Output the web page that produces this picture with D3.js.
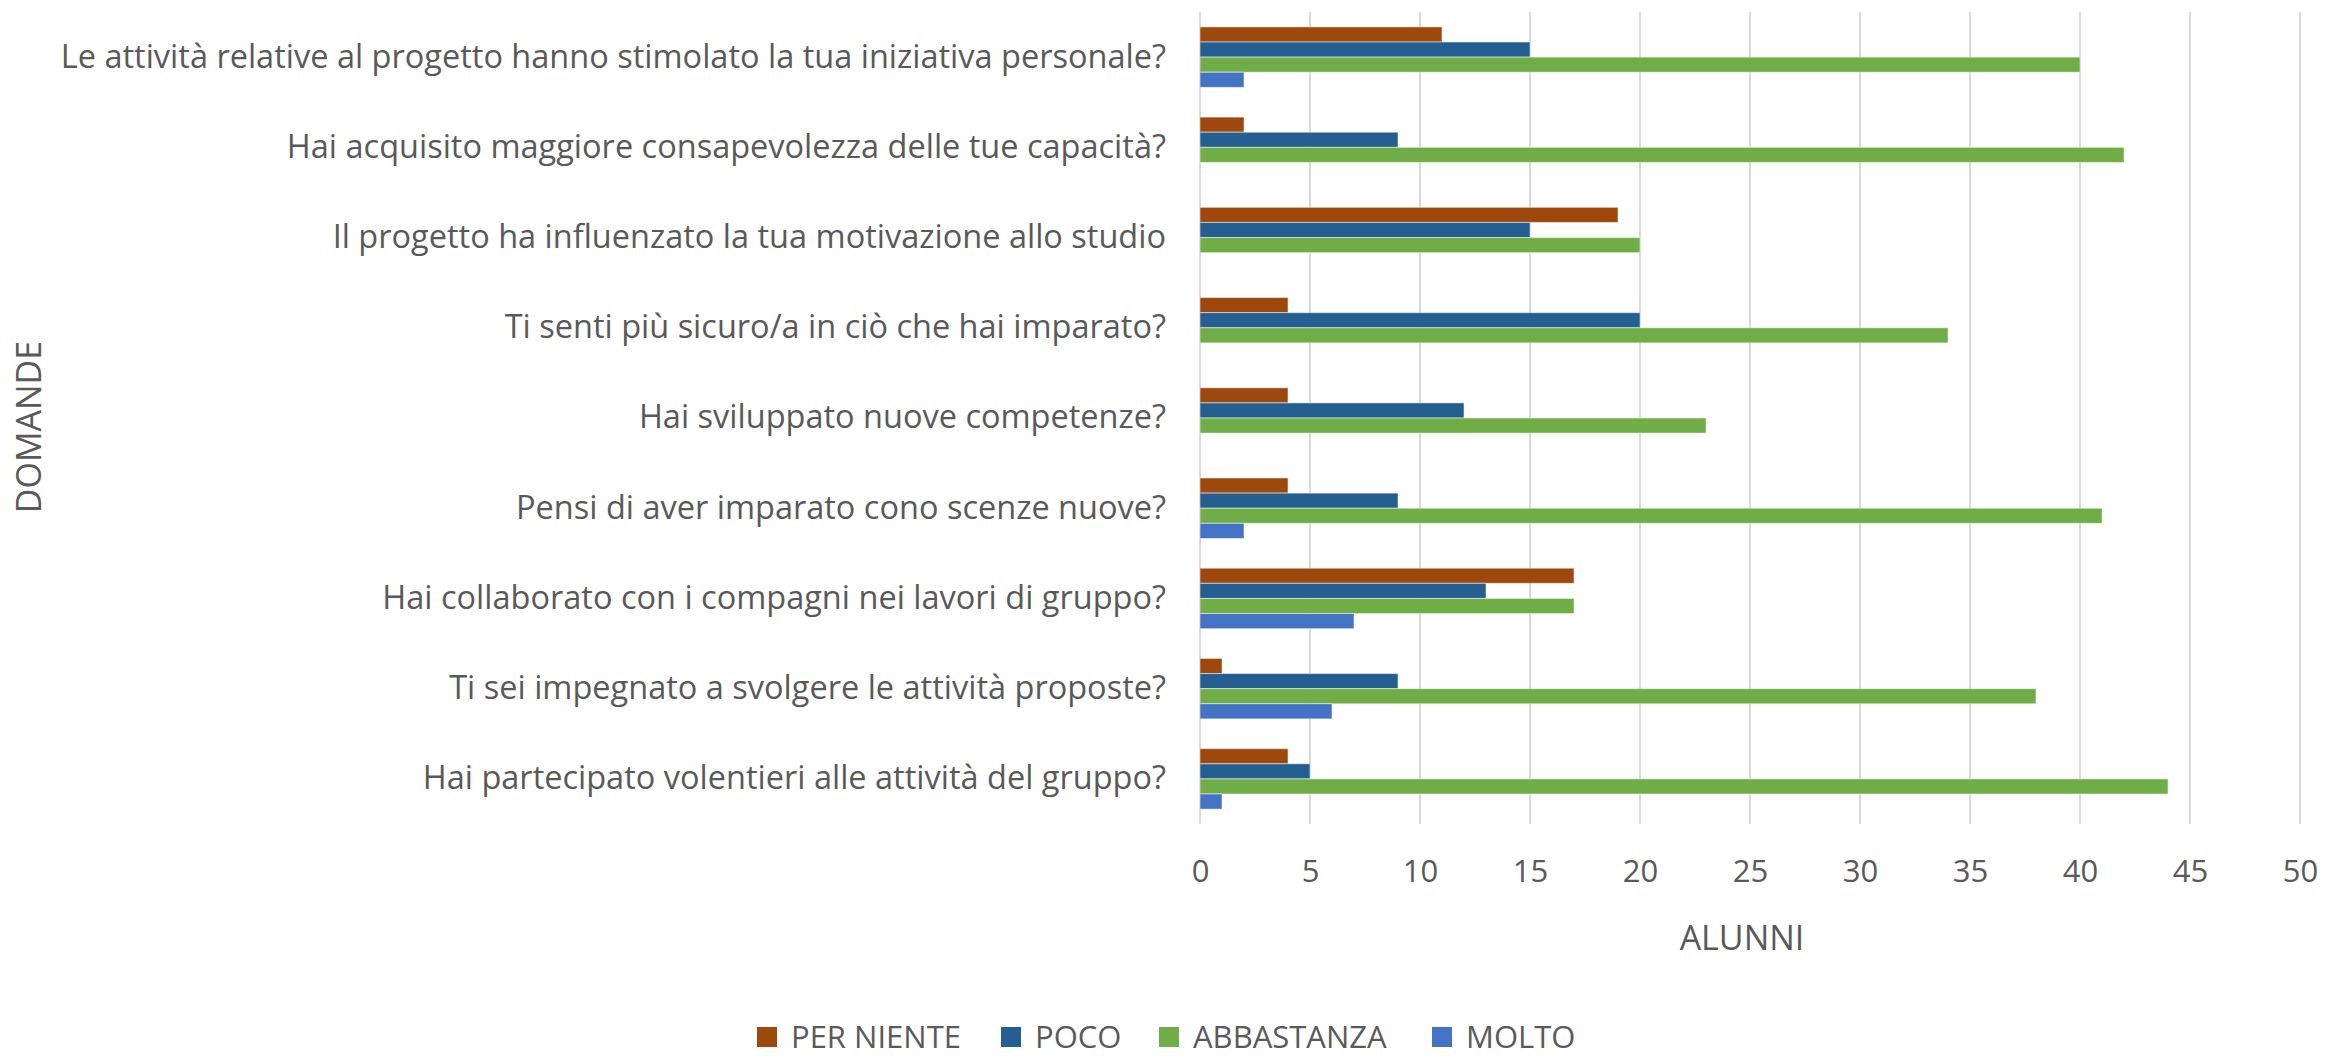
<!DOCTYPE html>
<html>
<head>
<meta charset="utf-8">
<script src="https://cdn.jsdelivr.net/npm/d3@7"></script>
<style>
  body { margin: 0; background: #fff; }
  text { font-family: "Open Sans", sans-serif; fill: #595959; }
</style>
</head>
<body>
<div id="chart"></div>
<script>
// categories listed bottom to top, as in the source sheet
const domande = [
  "Hai partecipato volentieri alle attività del gruppo?",
  "Ti sei impegnato a svolgere le attività proposte?",
  "Hai collaborato con i compagni nei lavori di gruppo?",
  "Pensi di aver imparato cono scenze nuove?",
  "Hai sviluppato nuove competenze?",
  "Ti senti più sicuro/a in ciò che hai imparato?",
  "Il progetto ha influenzato la tua motivazione allo studio",
  "Hai acquisito maggiore consapevolezza delle tue capacità?",
  "Le attività relative al progetto hanno stimolato la tua iniziativa personale?"
];
const serie = ["PER NIENTE", "POCO", "ABBASTANZA", "MOLTO"];
const perNiente  = [4, 1, 17, 4, 4, 4, 19, 2, 11];
const poco       = [5, 9, 13, 9, 12, 20, 15, 9, 15];
const abbastanza = [44, 38, 17, 41, 23, 34, 20, 42, 40];
const molto      = [1, 6, 7, 2, 0, 0, 0, 0, 2];
const xTicks = [0, 5, 10, 15, 20, 25, 30, 35, 40, 45, 50];
const colori = ["#9E480E", "#255E91", "#70AD47", "#4472C4"];

const valori = [perNiente, poco, abbastanza, molto];
const data = domande.map((d, i) => ({
  domanda: d,
  vals: serie.map((s, j) => ({ serie: s, v: valori[j][i] }))
}));

const W = 2328, H = 1056;
const plot = { left: 1200, right: 2300, top: 12, bottom: 824 };

const svg = d3.select("#chart").append("svg")
  .attr("width", W).attr("height", H);

const x = d3.scaleLinear().domain([0, 50]).range([plot.left, plot.right]);

// top of chart = last category
const y = d3.scaleBand()
  .domain(domande.slice().reverse())
  .range([plot.top, plot.bottom])
  .paddingInner(0.33)
  .paddingOuter(0.165);

const ySub = d3.scaleBand().domain(serie).range([0, y.bandwidth()]);
const color = d3.scaleOrdinal().domain(serie).range(colori);

// gridlines
svg.append("g")
  .selectAll("line")
  .data(xTicks)
  .join("line")
    .attr("x1", d => x(d)).attr("x2", d => x(d))
    .attr("y1", plot.top).attr("y2", plot.bottom)
    .attr("stroke", "#D9D9D9")
    .attr("stroke-width", 2);

// bars
svg.append("g")
  .selectAll("g")
  .data(data)
  .join("g")
    .attr("transform", d => `translate(0, ${y(d.domanda)})`)
  .selectAll("rect")
  .data(d => d.vals.filter(v => v.v > 0))
  .join("rect")
    .attr("x", x(0))
    .attr("y", d => ySub(d.serie))
    .attr("width", d => x(d.v) - x(0))
    .attr("height", ySub.bandwidth())
    .attr("fill", d => color(d.serie))
    .attr("stroke", "#fff")
    .attr("stroke-opacity", 0.5)
    .attr("stroke-width", 1);

// x axis labels
const xAxis = svg.append("g")
  .attr("transform", `translate(0, ${plot.bottom})`)
  .call(d3.axisBottom(x).tickValues(xTicks).tickSize(0).tickPadding(36));
xAxis.select(".domain").remove();
xAxis.selectAll("text")
  .attr("font-size", 31)
  .attr("font-family", "Open Sans, sans-serif")
  .attr("fill", "#595959");

// category labels
const yAxis = svg.append("g")
  .attr("transform", `translate(${plot.left}, 0)`)
  .call(d3.axisLeft(y).tickSize(0).tickPadding(34));
yAxis.select(".domain").remove();
yAxis.selectAll("text")
  .attr("font-size", 32.5)
  .attr("font-family", "Open Sans, sans-serif")
  .attr("fill", "#595959");

// axis titles
svg.append("text")
  .attr("x", 1742).attr("y", 950)
  .attr("text-anchor", "middle")
  .attr("font-size", 34)
  .text("ALUNNI");

svg.append("text")
  .attr("transform", "translate(41, 427) rotate(-90)")
  .attr("text-anchor", "middle")
  .attr("font-size", 34)
  .text("DOMANDE");

// legend
const legendX = [757, 1001, 1159, 1432];
const legend = svg.append("g")
  .selectAll("g")
  .data(serie)
  .join("g")
    .attr("transform", (d, i) => `translate(${legendX[i]}, 1027)`);
legend.append("rect")
  .attr("width", 20).attr("height", 20)
  .attr("fill", d => color(d));
legend.append("text")
  .attr("x", 34).attr("y", 10)
  .attr("dy", "0.35em")
  .attr("font-size", 31)
  .text(d => d);
</script>
</body>
</html>
